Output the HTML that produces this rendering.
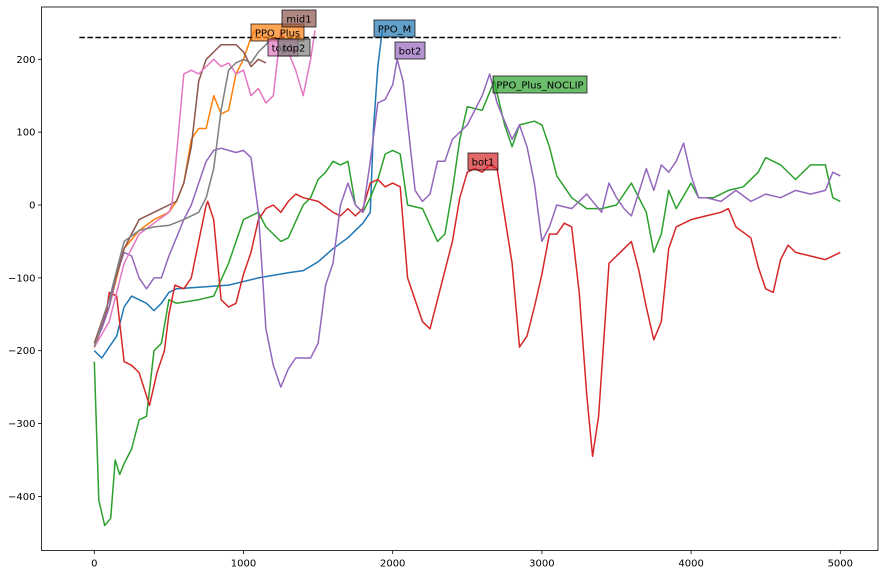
<!DOCTYPE html>
<html><head><meta charset="utf-8"><style>
body{margin:0;background:#fff}
svg{display:block;font-family:"DejaVu Sans","Liberation Sans",sans-serif}
</style></head><body>
<svg id="chart" width="885" height="575" viewBox="0 0 885 575" xmlns="http://www.w3.org/2000/svg">
<rect x="0" y="0" width="885" height="575" fill="#fff"/>
<g id="series"></g>
<g id="labels"></g>
<g id="axes"></g>
</svg>
<script>
const xTicks=[0,1000,2000,3000,4000,5000];
const yTicks=[-400,-300,-200,-100,0,100,200];
const targetLevel=230;
const ppoMX=[0,50,100,150,200,250,300,350,400,450,500,550,700,900,1100,1300,1400,1500,1600,1700,1800,1850,1870,1900,1930];
const ppoMY=[-200,-210,-195,-180,-140,-125,-130,-135,-145,-135,-120,-115,-113,-110,-100,-93,-90,-78,-60,-45,-25,-10,100,190,240];
const ppoPlusX=[0,100,200,300,400,500,550,600,650,700,750,800,850,900,950,1000,1050,1080];
const ppoPlusY=[-195,-140,-60,-35,-20,-10,5,30,90,105,105,150,125,130,180,200,230,240];
const noclipX=[0,30,70,110,140,170,200,250,300,350,400,450,500,550,700,800,900,1000,1100,1150,1250,1300,1400,1450,1500,1550,1600,1650,1700,1750,1800,1850,1900,1950,2000,2050,2100,2200,2300,2350,2400,2450,2500,2600,2680,2750,2800,2850,2950,3000,3050,3100,3200,3300,3400,3500,3600,3700,3750,3800,3850,3900,4000,4050,4150,4250,4350,4450,4500,4600,4700,4800,4900,4950,5000];
const noclipY=[-215,-405,-440,-430,-350,-370,-355,-335,-295,-290,-200,-190,-130,-135,-130,-125,-80,-20,-10,-30,-50,-45,0,10,35,45,60,55,60,0,-10,10,35,70,75,70,0,-5,-50,-40,20,90,135,130,170,110,80,110,115,110,80,40,10,-5,-5,0,30,-10,-65,-40,20,-5,30,10,10,20,25,45,65,55,35,55,55,10,5];
const bot1X=[0,80,100,150,200,250,300,370,420,470,500,540,600,650,700,750,760,800,850,900,950,1000,1050,1100,1150,1200,1250,1300,1350,1400,1500,1600,1650,1700,1750,1800,1850,1900,1950,2000,2050,2100,2200,2250,2300,2400,2450,2500,2550,2600,2650,2700,2800,2850,2900,2950,3000,3050,3100,3150,3200,3250,3300,3340,3380,3450,3500,3550,3600,3650,3700,3750,3800,3850,3900,4000,4100,4200,4250,4300,4400,4450,4500,4550,4600,4650,4700,4800,4900,5000];
const bot1Y=[-195,-150,-120,-125,-215,-220,-230,-275,-230,-200,-150,-110,-115,-100,-50,0,5,-20,-130,-140,-135,-95,-65,-20,-5,0,-10,5,15,10,5,-10,-15,-5,-15,-5,30,35,25,30,25,-100,-160,-170,-130,-50,10,45,50,45,55,50,-80,-195,-180,-140,-95,-40,-40,-25,-30,-120,-260,-345,-290,-80,-70,-60,-50,-90,-140,-185,-160,-60,-30,-20,-15,-10,-5,-30,-45,-85,-115,-120,-75,-55,-65,-70,-75,-65];
const bot2X=[0,50,100,150,200,250,300,350,400,450,500,550,600,650,700,750,800,850,900,950,1000,1050,1100,1150,1200,1250,1300,1350,1450,1500,1550,1600,1650,1700,1750,1800,1850,1900,1950,2000,2030,2070,2150,2200,2250,2300,2350,2400,2500,2600,2650,2700,2750,2800,2850,2900,2950,3000,3050,3100,3200,3300,3400,3450,3500,3550,3600,3700,3750,3800,3850,3900,3950,4000,4050,4100,4200,4300,4400,4500,4600,4700,4800,4900,4950,5000];
const bot2Y=[-190,-170,-140,-95,-65,-70,-100,-115,-100,-100,-70,-45,-20,0,30,60,75,78,75,72,75,65,-10,-170,-220,-250,-225,-210,-210,-190,-110,-80,0,30,0,-10,60,140,145,165,200,170,20,5,15,60,60,90,110,150,180,140,115,90,110,80,30,-50,-30,0,-5,15,-10,30,10,-5,-15,50,20,55,45,60,85,40,10,10,5,20,5,15,10,20,15,20,45,40];
const top1X=[0,100,200,300,400,500,520,560,600,650,700,750,800,850,900,950,1000,1050,1100,1150,1200,1250,1300,1350,1400,1450,1480];
const top1Y=[-195,-160,-80,-40,-25,-10,0,90,180,185,180,190,200,190,195,180,185,150,160,140,150,240,210,185,150,200,240];
const mid1X=[0,100,200,300,400,500,550,600,650,700,750,800,850,900,950,1000,1050,1100,1150];
const mid1Y=[-190,-130,-60,-20,-10,0,5,30,80,170,200,210,220,220,220,210,190,200,195];
const top2X=[0,100,200,300,400,500,600,700,750,800,850,900,950,1000,1050,1100,1150,1200];
const top2Y=[-195,-130,-50,-35,-30,-28,-20,-10,10,50,130,185,195,200,195,210,220,230];

const X0=41.5,X1=878,Y0=7,Y1=550.5;
function sx(v){return 94.3+v*0.14920;}
function sy(v){return 205-v*0.7285;}
const NS='http://www.w3.org/2000/svg';
function mk(tag,attrs,parent){const e=document.createElementNS(NS,tag);for(const k in attrs)e.setAttribute(k,attrs[k]);parent.appendChild(e);return e;}
const sg=document.getElementById('series');
const series=[
 ['ppo-m-line',ppoMX,ppoMY,'#1f77b4'],
 ['ppo-plus-line',ppoPlusX,ppoPlusY,'#ff7f0e'],
 ['ppo-plus-noclip-line',noclipX,noclipY,'#2ca02c'],
 ['bot1-line',bot1X,bot1Y,'#d62728'],
 ['bot2-line',bot2X,bot2Y,'#9467bd'],
 ['mid1-line',mid1X,mid1Y,'#8c564b'],
 ['top1-line',top1X,top1Y,'#e377c2'],
 ['top2-line',top2X,top2Y,'#7f7f7f']];
series.forEach(s=>{
 const d=s[1].map((x,i)=>(i?'L':'M')+sx(x).toFixed(1)+','+sy(s[2][i]).toFixed(1)).join('');
 const p=mk('path',{d:d,fill:'none',stroke:s[3],'stroke-width':1.5,'stroke-linejoin':'round'},sg);
 
 
});
const tl=mk('line',{x1:sx(-100),x2:sx(5000),y1:sy(targetLevel),y2:sy(targetLevel),stroke:'#000','stroke-width':1.5,'stroke-dasharray':'5.5,2.5'},sg);



const lg=document.getElementById('labels');
const labels=[
 ['PPO_Plus',251,24,53,'#ff7f0e'],
 ['mid1',282,10,34,'#8c564b'],
 ['top1',268,39,30,'#e377c2'],
 ['top2',278,39,32,'#7f7f7f'],
 ['PPO_M',374,20,41,'#1f77b4'],
 ['bot2',395,42,30,'#9467bd'],
 ['PPO_Plus_NOCLIP',493,76,94,'#2ca02c'],
 ['bot1',468,153,30,'#d62728']];
labels.forEach(l=>{
 const g=mk('g',{},lg);
 
 
 mk('rect',{x:l[1],y:l[2],width:l[3],height:17,fill:l[4],'fill-opacity':0.7,stroke:'#000','stroke-opacity':0.7,'stroke-width':1},g);
 const t=mk('text',{x:l[1]+l[3]/2,y:l[2]+12.5,'font-size':10,'text-anchor':'middle',fill:'#000'},g);
 t.textContent=l[0];
});

const ag=document.getElementById('axes');
const fr=mk('rect',{x:X0,y:Y0,width:X1-X0,height:Y1-Y0,fill:'none',stroke:'#000','stroke-width':0.8},ag);


xTicks.forEach(v=>{
 const g=mk('g',{},ag);
 
 
 mk('line',{x1:sx(v),x2:sx(v),y1:Y1,y2:Y1+3.5,stroke:'#000','stroke-width':0.8},g);
 const t=mk('text',{x:sx(v),y:Y1+16,'font-size':10,'text-anchor':'middle',fill:'#000'},g);
 t.textContent=String(v);
});
yTicks.forEach(v=>{
 const g=mk('g',{},ag);
 
 
 mk('line',{x1:X0-3.5,x2:X0,y1:sy(v),y2:sy(v),stroke:'#000','stroke-width':0.8},g);
 const t=mk('text',{x:X0-6,y:sy(v)+3.5,'font-size':10,'text-anchor':'end',fill:'#000'},g);
 t.textContent=v<0?'\u2212'+Math.abs(v):String(v);
});
</script>
</body></html>
